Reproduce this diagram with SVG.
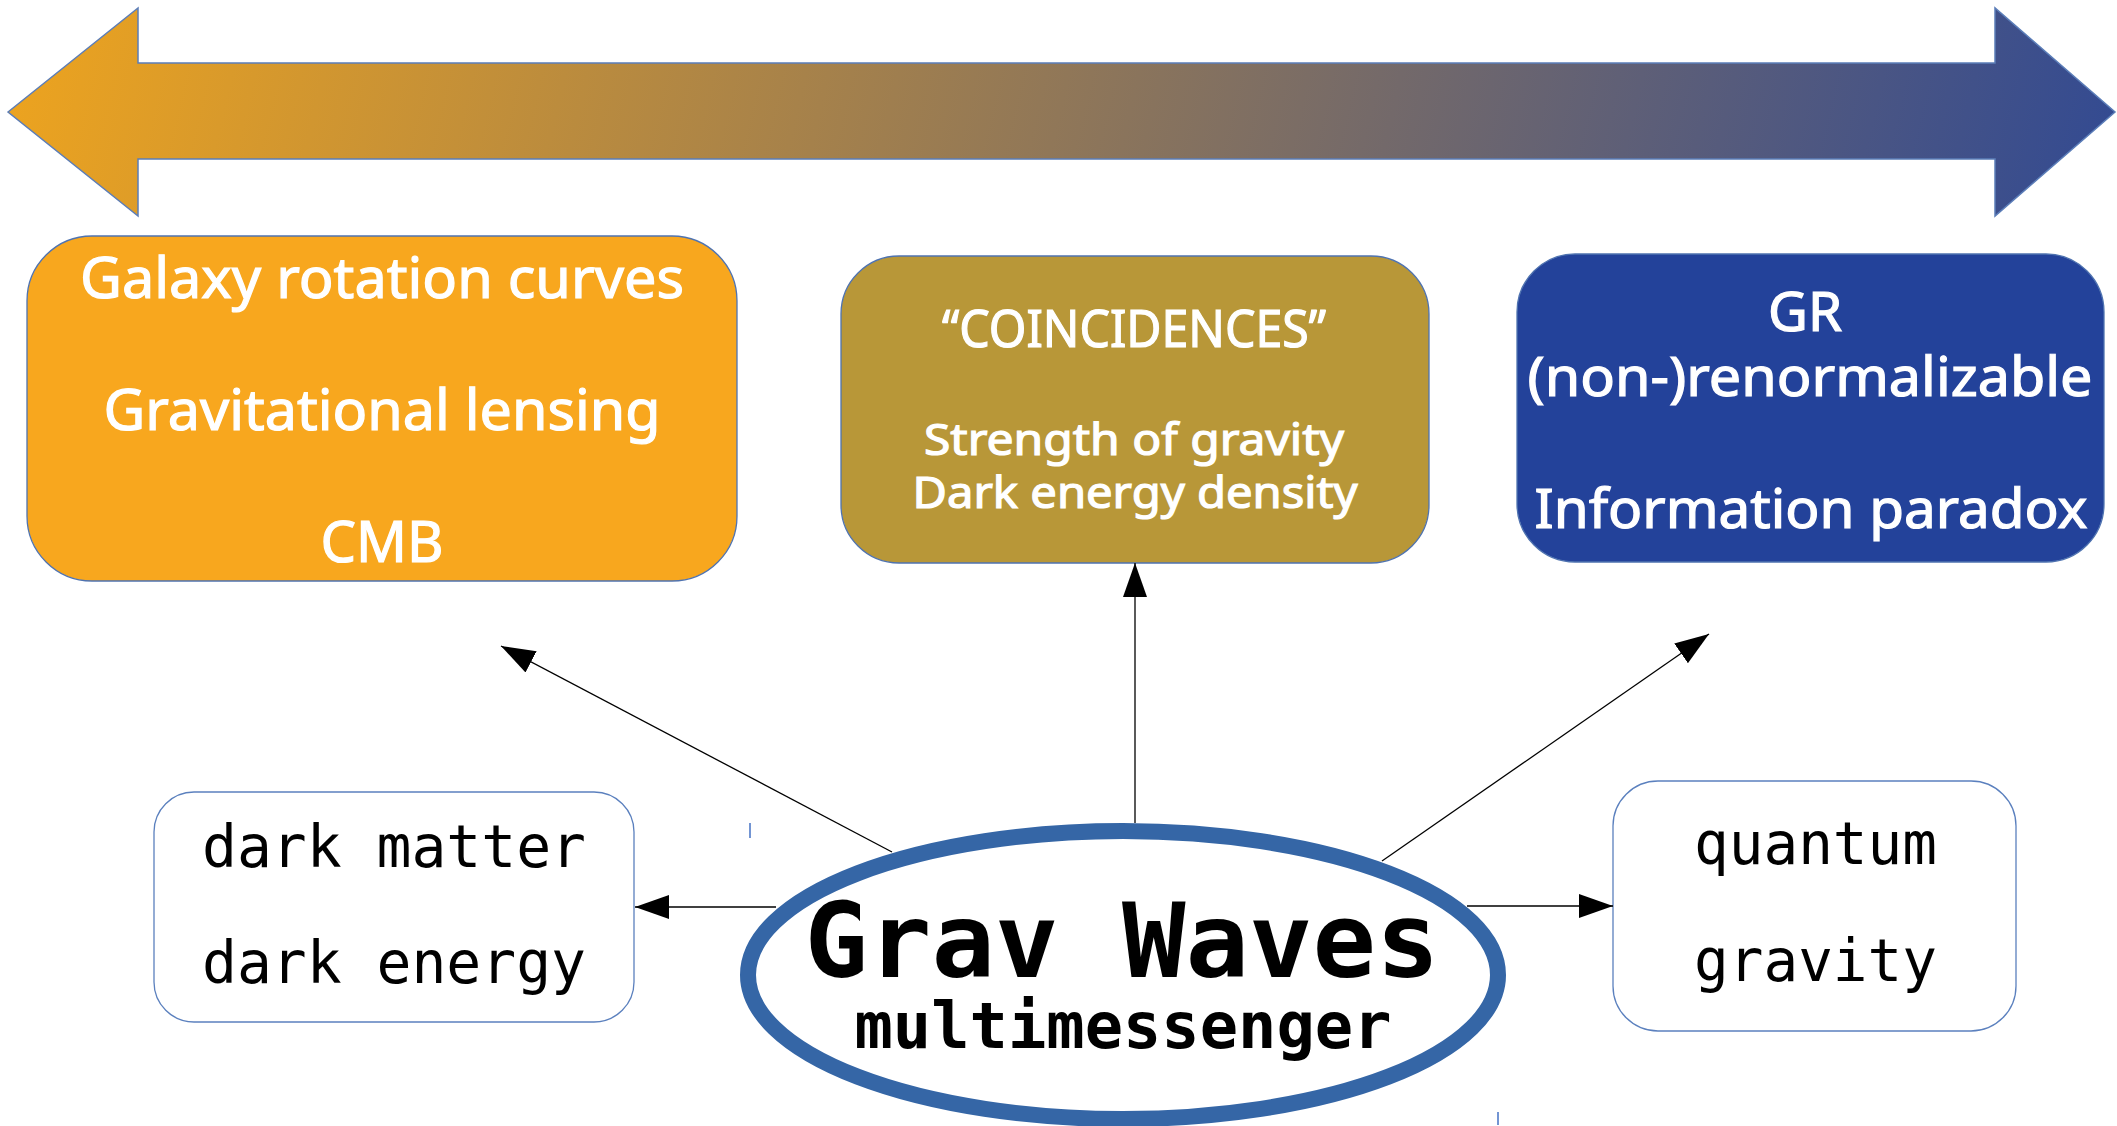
<svg xmlns="http://www.w3.org/2000/svg" width="2117" height="1126" viewBox="0 0 2117 1126">
<defs>
<linearGradient id="bar" gradientUnits="userSpaceOnUse" x1="8" y1="0" x2="2115" y2="500">
<stop offset="0" stop-color="#EEA41E"/>
<stop offset="1" stop-color="#2C4796"/>
</linearGradient>
<marker id="ah" markerUnits="userSpaceOnUse" markerWidth="34" markerHeight="24" refX="34" refY="12" orient="auto" viewBox="0 0 34 24">
<path d="M0,0 L34,12 L0,24 Z" fill="#000"/>
</marker>
<style>
.box{stroke:#4F73B0;stroke-width:1.3}
.ttl{font-family:"Noto Sans","Open Sans",sans-serif;fill:#fff;stroke:#fff;stroke-width:1.2;text-anchor:middle}
.mono{font-family:"DejaVu Sans Mono","Liberation Mono",monospace;fill:#000}
.conn{stroke:#000;stroke-width:1.3;fill:none;marker-end:url(#ah)}
.wbox{fill:#fff;stroke:#5B80BE;stroke-width:1.3}
</style>
</defs>
<rect width="2117" height="1126" fill="#fff"/>
<g id="scale-arrow">
<path d="M8,112 L138,8 L138,63 L1995,63 L1995,8 L2115,112 L1995,216 L1995,159 L138,159 L138,216 Z" fill="url(#bar)" stroke="#5B7DB8" stroke-width="1.5"/>
</g>
<g id="box-astro">
<rect class="box" x="27" y="236" width="710" height="345" rx="65" ry="65" fill="#F8A71E"/>
<text class="ttl" x="382" y="298" font-size="57" textLength="604" lengthAdjust="spacingAndGlyphs">Galaxy rotation curves</text>
<text class="ttl" x="382" y="430" font-size="57" textLength="557" lengthAdjust="spacingAndGlyphs">Gravitational lensing</text>
<text class="ttl" x="382" y="562" font-size="57" textLength="123" lengthAdjust="spacingAndGlyphs">CMB</text>
</g>
<g id="box-coinc">
<rect class="box" x="841" y="256" width="588" height="307" rx="58" ry="58" fill="#B89738"/>
<text class="ttl" x="1134" y="347" font-size="51" textLength="384" lengthAdjust="spacingAndGlyphs">“COINCIDENCES”</text>
<text class="ttl" x="1134" y="455" font-size="43" textLength="420" lengthAdjust="spacingAndGlyphs">Strength of gravity</text>
<text class="ttl" x="1135" y="508" font-size="43" textLength="445" lengthAdjust="spacingAndGlyphs">Dark energy density</text>
</g>
<g id="box-gr">
<rect class="box" x="1517" y="254" width="587" height="308" rx="58" ry="58" fill="#23429A" stroke="#6A8AC8"/>
<text class="ttl" x="1805" y="331" font-size="54" textLength="74" lengthAdjust="spacingAndGlyphs">GR</text>
<text class="ttl" x="1810" y="396" font-size="54" textLength="565" lengthAdjust="spacingAndGlyphs">(non-)renormalizable</text>
<text class="ttl" x="1811" y="528" font-size="54" textLength="553" lengthAdjust="spacingAndGlyphs">Information paradox</text>
</g>
<g id="box-dark">
<rect class="wbox" x="154" y="792" width="480" height="230" rx="40" ry="40"/>
<text class="mono" x="202" y="867" font-size="58" textLength="384" lengthAdjust="spacingAndGlyphs">dark matter</text>
<text class="mono" x="202" y="983" font-size="58" textLength="384" lengthAdjust="spacingAndGlyphs">dark energy</text>
</g>
<g id="box-qg">
<rect class="wbox" x="1613" y="781" width="403" height="250" rx="45" ry="45"/>
<text class="mono" x="1694" y="864" font-size="58" textLength="243" lengthAdjust="spacingAndGlyphs">quantum</text>
<text class="mono" x="1694" y="981" font-size="58" textLength="243" lengthAdjust="spacingAndGlyphs">gravity</text>
</g>
<g id="connectors">
<line class="conn" x1="776" y1="907" x2="635" y2="907"/>
<line class="conn" x1="1467" y1="906" x2="1613" y2="906"/>
<line class="conn" x1="1135" y1="823" x2="1135" y2="563"/>
<line class="conn" x1="892" y1="852" x2="501" y2="646"/>
<line class="conn" x1="1382" y1="861" x2="1709" y2="634"/>
</g>
<g id="gw">
<ellipse cx="1123" cy="975" rx="375" ry="144" fill="#fff" stroke="#3566A6" stroke-width="16"/>
<text class="mono" x="1122" y="977" font-size="103" font-weight="bold" text-anchor="middle" textLength="635" lengthAdjust="spacingAndGlyphs">Grav Waves</text>
<text class="mono" x="1123" y="1048" font-size="64" font-weight="bold" text-anchor="middle" textLength="537" lengthAdjust="spacingAndGlyphs">multimessenger</text>
</g>
<g id="marks" stroke="#4472C4" stroke-width="1.5">
<line x1="750" y1="823" x2="750" y2="838"/>
<line x1="1498" y1="1112" x2="1498" y2="1125"/>
</g>
</svg>
